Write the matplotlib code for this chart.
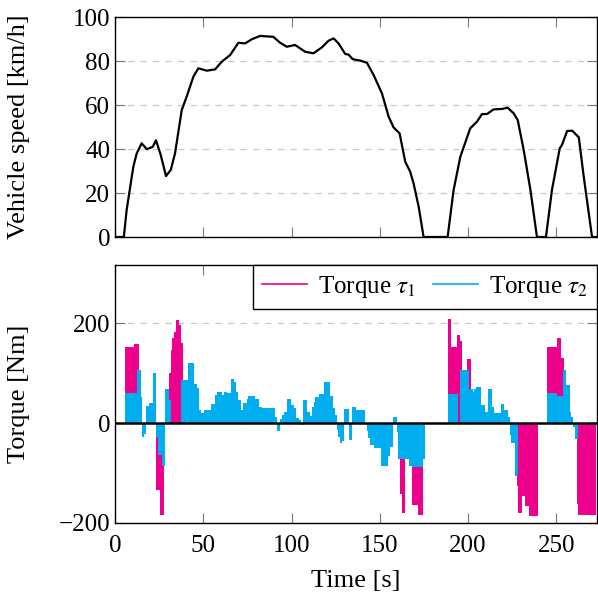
import matplotlib
matplotlib.use("Agg")
import matplotlib.pyplot as plt
import numpy as np
from matplotlib.lines import Line2D

plt.rcParams['font.family'] = ['Liberation Serif', 'DejaVu Serif']
plt.rcParams['mathtext.fontset'] = 'stix'
FS = 18
LABEL_FS = 19

# ------------------------
# Data
# ------------------------
speed_t = [0, 5, 6.6, 10.4, 12.3, 15.1, 18, 21.4, 23.2, 25.9, 28.9, 31.6, 34, 37.8, 40.6,
           44.4, 47.2, 52, 56.7, 60.5, 65.2, 69.9, 73.7, 77.5, 82.2, 89.7, 93.5, 97.3, 102,
           107.7, 112.4, 117.2, 120.9, 123.8, 126.6, 130.4, 132.3, 134.7, 138.9, 142.7, 146.5,
           151.2, 155, 157.8, 161.2, 164.4, 167.2, 169.1, 172, 174.8, 188.4, 191.8, 195.6,
           201.2, 205, 207.9, 210.7, 214.4, 219.2, 222.4, 225.8, 228.1, 231.5, 235.3, 239,
           244.1, 247.5, 251.9, 253.2, 256.1, 259, 262.7, 265.5, 270.2, 273]
speed_v = [0, 0, 12.3, 32, 38, 42.6, 39.9, 41, 44, 37.3, 27.7, 30.5, 38, 57.7, 63.8,
           72.9, 76.7, 75.6, 76.2, 79.7, 82.7, 88.3, 88, 89.9, 91.4, 91, 88.3, 86.5, 87.3,
           84.2, 83.5, 86.2, 89.2, 90.3, 88, 83.2, 82.9, 80.8, 80.2, 79.2, 73.6,
           65.3, 54.7, 49.8, 47.1, 34.2, 29.7, 24.4, 13.8, 0, 0, 21.4, 36.5,
           49.4, 52.4, 55.9, 55.9, 58, 58.2, 58.8, 56.2, 53.2, 39.5, 21.4, 0,
           0, 21.4, 40.3, 41.9, 48.2, 48.3, 45.3, 27.4, 0, 0]

# torque per second, t = 0 .. 272
torque1 = [
    0, 0, 0, 0, 0, 0, 152, 152, 152, 152,
    152, 158, 158, 158, 0, 0, 0, 0, 0, 0,
    0, 0, 0, 0, -134, -134, -184, -184, 0, 0,
    0, 100, 146, 170, 183, 206, 206, 196, 160, 0,
    0, 0, 0, 0, 0, 0, 0, 0, 0, 0,
    0, 0, 0, 0, 0, 0, 0, 0, 0, 0,
    0, 0, 0, 0, 0, 0, 0, 0, 0, 0,
    0, 0, 0, 0, 0, 0, 0, 0, 0, 0,
    0, 0, 0, 0, 0, 0, 0, 0, 0, 0,
    0, 0, 0, 0, 0, 0, 0, 0, 0, 0,
    0, 0, 0, 0, 0, 0, 0, 0, 0, 0,
    0, 0, 0, 0, 0, 0, 0, 0, 0, 0,
    0, 0, 0, 0, 0, 0, 0, 0, 0, 0,
    0, 0, 0, 0, 0, 0, 0, 0, 0, 0,
    0, 0, 0, 0, 0, 0, 0, 0, 0, 0,
    0, 0, 0, 0, 0, 0, 0, 0, 0, 0,
    0, 0, -143, -181, -181, 0, 0, 0, 0, -165,
    -165, -165, -185, -185, -185, 0, 0, 0, 0, 0,
    0, 0, 0, 0, 0, 0, 0, 0, 0, 209,
    209, 153, 153, 153, 177, 177, 165, 0, 0, 0,
    129, 129, 0, 0, 0, 0, 0, 0, 0, 0,
    0, 0, 0, 0, 0, 0, 0, 0, 0, 0,
    0, 0, 0, 0, 0, 0, 0, 0, -127, -181,
    -181, -147, -147, -167, -167, -186, -186, -186, -186, -186,
    0, 0, 0, 0, 0, 152, 152, 152, 152, 152,
    152, 171, 171, 130, 130, 0, 0, 0, 0, 0,
    0, 0, -163, -185, -185, -185, -185, -185, -185, -185,
    -185, -185, -185,
]
torque2 = [
    0, 0, 0, 0, 0, 0, 60, 60, 60, 60,
    60, 60, 60, 107, 107, 53, -27, -21, 34, 34,
    41, 41, 101, 101, -27, -64, -64, -87, -87, 69,
    69, 47, 0, 0, 0, 0, 0, 0, 87, 87,
    87, 87, 120, 120, 120, 79, 79, 70, 27, 21,
    21, 27, 27, 27, 27, 38, 38, 57, 63, 63,
    63, 57, 63, 63, 60, 60, 88, 88, 83, 63,
    47, 47, 27, 40, 40, 48, 55, 55, 55, 55,
    48, 48, 33, 33, 31, 31, 31, 31, 31, 31,
    31, 13, -15, -15, 8, 17, 23, 23, 48, 48,
    37, 37, 30, 10, 10, 7, -4, 47, 47, 23,
    23, 15, 33, 43, 52, 52, 59, 59, 59, 83,
    83, 83, 55, 55, 30, 17, -13, -27, -40, -35,
    28, 28, 28, -34, -34, 33, 33, 26, 26, 26,
    26, 26, 0, -15, -30, -43, -43, -50, -50, -50,
    -50, -87, -87, -87, -87, -67, -47, -47, 13, 13,
    -17, -73, -73, -73, -73, -73, -73, -87, -87, -88,
    -88, -88, -88, -88, -88, -73, 0, 0, 0, 0,
    0, 0, 0, 0, 0, 0, 0, 0, 0, 58,
    58, 58, 58, 58, 58, 0, 107, 107, 107, 107,
    106, 68, 68, 63, 68, 73, 73, 73, 37, 37,
    22, 22, 68, 68, 33, 21, 21, 21, 21, 39,
    39, 27, 27, 13, -23, -40, -40, -107, -107, 0,
    0, 0, 0, 0, 0, 0, 0, 0, 0, 0,
    0, 0, 0, 0, 0, 60, 60, 60, 60, 60,
    60, 55, 55, 55, 107, 107, 77, 77, 23, 13,
    -7, -32, -32, 0, 0, 0, 0, 0, 0, 0,
    0, 0, 0,
]
# one-second bins centred on the integer times
torque_edges = np.arange(len(torque1) + 1) - 0.5

speed_ticks = [0, 20, 40, 60, 80, 100]
torque_ticks = [-200, 0, 200]
time_ticks = [0, 50, 100, 150, 200, 250]

MAGENTA = '#ec008c'
CYAN = '#00aeef'
GRID = '#c8c8c8'


def style_axis(ax):
    ax.tick_params(direction='in', top=True, right=True, length=7, width=0.8,
                   color='#777777', labelsize=FS)
    ax.tick_params(axis='x', pad=9)
    for sp in ax.spines.values():
        sp.set_linewidth(1.0)
    ax.yaxis.grid(True, linestyle=(0, (5, 5)), color=GRID, linewidth=0.9)
    ax.set_axisbelow(True)
    ax.yaxis.set_label_coords(-0.176, 0.5)


fig = plt.figure(figsize=(5.98, 5.97), dpi=100)

# ------------------------
# Top: vehicle speed
# ------------------------
ax1 = fig.add_axes([0.1923, 0.603, 0.806, 0.3685])
ax1.plot(speed_t, speed_v, color='black', linewidth=1.6)
ax1.set_xlim(0, 273)
ax1.set_ylim(0, 100)
ax1.set_xticks(time_ticks)
ax1.set_xticklabels([])
ax1.set_yticks(speed_ticks)
ax1.set_ylabel('Vehicle speed [km/h]', fontsize=LABEL_FS)
style_axis(ax1)

# ------------------------
# Bottom: torques (bar steps, tau2 drawn over tau1)
# ------------------------
ax2 = fig.add_axes([0.1923, 0.124, 0.806, 0.432])
ax2.stairs(torque1, torque_edges, baseline=0, fill=True, color=MAGENTA, zorder=2)
ax2.stairs(torque2, torque_edges, baseline=0, fill=True, color=CYAN, zorder=2.1)
ax2.axhline(0, color='black', linewidth=1.8, zorder=3)
ax2.set_xlim(0, 273)
ax2.set_ylim(-200, 316)
ax2.set_xticks(time_ticks)
ax2.set_yticks(torque_ticks)
ax2.set_yticklabels(['\N{MINUS SIGN}200', '0', '200'])
ax2.set_xlabel('Time [s]', fontsize=LABEL_FS, labelpad=9)
ax2.set_ylabel('Torque [Nm]', fontsize=LABEL_FS)
style_axis(ax2)

handles = [Line2D([], [], color=MAGENTA, linewidth=1.2),
           Line2D([], [], color=CYAN, linewidth=1.2)]
leg = ax2.legend(handles, [r'Torque $\tau_1$', r'Torque $\tau_2$'], ncol=2,
                 loc='upper right', bbox_to_anchor=(1.0, 1.0), borderaxespad=0.0,
                 fontsize=FS, fancybox=False, framealpha=1, edgecolor='black',
                 handlelength=1.8, handletextpad=0.45, columnspacing=0.7,
                 borderpad=0.35)
leg.get_frame().set_linewidth(1.0)

fig.savefig('out.png', dpi=100)
